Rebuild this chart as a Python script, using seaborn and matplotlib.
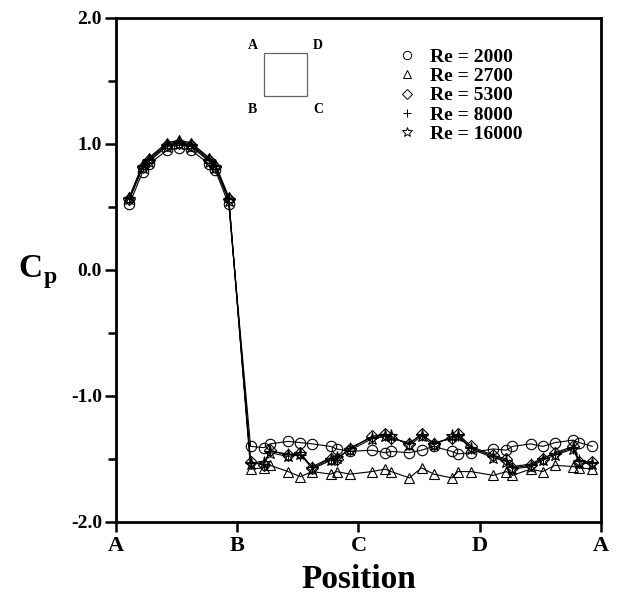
import pandas as pd

import seaborn as sns
import matplotlib.pyplot as plt
from matplotlib.lines import Line2D
from matplotlib.patches import Rectangle
from matplotlib.ticker import MultipleLocator

sns.set_style('white')
plt.rcParams['font.family'] = ['Liberation Serif', 'DejaVu Serif']
plt.rcParams['font.weight'] = 'bold'
plt.rcParams['text.color'] = 'black'
plt.rcParams['axes.labelcolor'] = 'black'
plt.rcParams['xtick.color'] = 'black'
plt.rcParams['ytick.color'] = 'black'

# measurement positions around the square cylinder (A=0, B=1, C=2, D=3, A=4)
position = [0.11, 0.22, 0.27, 0.42, 0.52, 0.62, 0.77, 0.82, 0.93,
            1.11, 1.22, 1.27, 1.42, 1.52, 1.62, 1.77, 1.82, 1.93,
            2.11, 2.22, 2.27, 2.42, 2.52, 2.62, 2.77, 2.82, 2.93,
            3.11, 3.22, 3.27, 3.42, 3.52, 3.62, 3.77, 3.82, 3.93]

cp_2000 = [0.52, 0.78, 0.84, 0.95, 0.97, 0.95, 0.84, 0.79, 0.52,
           -1.40, -1.41, -1.38, -1.36, -1.37, -1.38, -1.40, -1.42, -1.44,
           -1.43, -1.45, -1.44, -1.45, -1.43, -1.40, -1.44, -1.46, -1.45,
           -1.42, -1.43, -1.40, -1.38, -1.40, -1.37, -1.35, -1.37, -1.40]
cp_2700 = [0.58, 0.84, 0.89, 1.01, 1.03, 1.01, 0.89, 0.84, 0.58,
           -1.58, -1.57, -1.55, -1.60, -1.64, -1.60, -1.62, -1.60, -1.62,
           -1.60, -1.58, -1.60, -1.65, -1.57, -1.62, -1.65, -1.60, -1.60,
           -1.63, -1.60, -1.63, -1.58, -1.60, -1.55, -1.56, -1.57, -1.58]
cp_5300 = [0.56, 0.82, 0.87, 0.99, 1.01, 0.99, 0.87, 0.82, 0.56,
           -1.52, -1.55, -1.43, -1.47, -1.45, -1.57, -1.50, -1.50, -1.42,
           -1.32, -1.30, -1.33, -1.38, -1.30, -1.38, -1.33, -1.30, -1.40,
           -1.47, -1.50, -1.57, -1.55, -1.50, -1.45, -1.40, -1.52, -1.52]
cp_8000 = [0.57, 0.83, 0.88, 1.00, 1.02, 1.00, 0.88, 0.83, 0.57,
           -1.53, -1.54, -1.44, -1.46, -1.47, -1.56, -1.49, -1.51, -1.41,
           -1.33, -1.31, -1.34, -1.37, -1.31, -1.37, -1.34, -1.31, -1.41,
           -1.48, -1.51, -1.56, -1.54, -1.49, -1.46, -1.41, -1.51, -1.53]
cp_16000 = [0.56, 0.81, 0.86, 0.98, 1.00, 0.98, 0.86, 0.81, 0.55,
            -1.54, -1.53, -1.45, -1.48, -1.46, -1.58, -1.51, -1.49, -1.43,
            -1.34, -1.32, -1.32, -1.39, -1.32, -1.39, -1.32, -1.32, -1.42,
            -1.49, -1.52, -1.58, -1.56, -1.51, -1.47, -1.42, -1.53, -1.54]

reynolds = ['Re = 2000', 'Re = 2700', 'Re = 5300', 'Re = 8000', 'Re = 16000']
series = [cp_2000, cp_2700, cp_5300, cp_8000, cp_16000]
markers = ['o', '^', 'D', '+', '*']
msizes = [7.5, 7, 6, 8, 9.5]

tick_pos = [0, 1, 2, 3, 4]
tick_labels = ['A', 'B', 'C', 'D', 'A']

fig = plt.figure(figsize=(6.39, 6.0), dpi=100)
ax = fig.add_axes([0.1815, 0.13, 0.759, 0.84])

for label, cp, mk, ms in zip(reynolds, series, markers, msizes):
    df = pd.DataFrame({'position': position, 'cp': cp})
    sns.lineplot(data=df, x='position', y='cp', sort=False, color='black',
                 linewidth=0.8, marker=mk, markersize=ms,
                 markerfacecolor='none', markeredgecolor='black',
                 markeredgewidth=0.8, ax=ax)

ax.set_xlim(0, 4)
ax.set_ylim(-2, 2)
ax.set_xticks(tick_pos)
ax.set_xticklabels(tick_labels, fontsize=16, fontweight='bold')
ax.yaxis.set_major_locator(MultipleLocator(1.0))
ax.yaxis.set_minor_locator(MultipleLocator(0.5))
ax.set_yticklabels([f'{v:.1f}' for v in ax.get_yticks()], fontsize=14,
                   fontweight='bold')
ax.tick_params(axis='both', which='major', direction='out', length=8,
               width=1.8, color='black', left=True, bottom=True, pad=2)
ax.tick_params(axis='y', which='minor', direction='out', length=6,
               width=1.8, color='black', left=True)
ax.tick_params(axis='x', which='major', length=7, pad=3)
for s in ax.spines.values():
    s.set_linewidth(2)
    s.set_color('black')

ax.set_xlabel('Position', fontsize=24, fontweight='bold', labelpad=6)
ax.set_ylabel('')
fig.text(0.028, 0.553, 'C', fontsize=24, fontweight='bold', va='center')
fig.text(0.068, 0.538, 'p', fontsize=17, fontweight='bold', va='center')

# sketch of the square cylinder
ax.add_patch(Rectangle((0.305, 0.845), 0.0887, 0.0853, transform=ax.transAxes,
                       fill=False, edgecolor='0.4', linewidth=0.9))
for txt, xa, ya in [('A', 0.282, 0.946), ('D', 0.417, 0.946),
                    ('B', 0.282, 0.818), ('C', 0.417, 0.818)]:
    ax.text(xa, ya, txt, transform=ax.transAxes, fontsize=10,
            fontweight='bold', ha='center', va='center')

handles = [Line2D([], [], marker=mk, linestyle='None', markersize=ms * 0.8,
                  markerfacecolor='none', markeredgecolor='black',
                  markeredgewidth=0.7)
           for mk, ms in zip(markers, msizes)]
ax.legend(handles, reynolds, loc='upper left', bbox_to_anchor=(0.56, 0.955),
          frameon=False, prop={'family': 'Liberation Serif', 'weight': 'bold',
                               'size': 14},
          handlelength=1.2, handletextpad=0.6, labelspacing=0.08,
          borderaxespad=0)

plt.savefig('out.png', dpi=100)
